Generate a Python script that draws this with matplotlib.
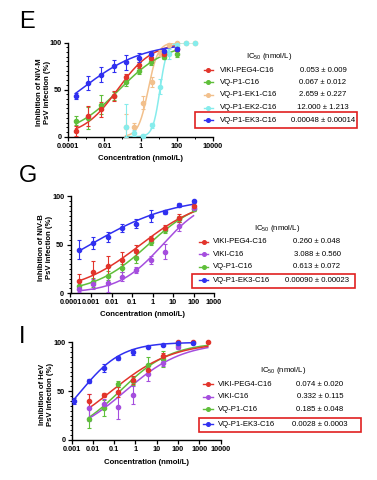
import numpy as np
import matplotlib
matplotlib.use('Agg')
import matplotlib.pyplot as plt
from matplotlib.lines import Line2D
from matplotlib.patches import Rectangle
from matplotlib.ticker import FixedLocator, NullFormatter, MultipleLocator

plt.rcParams['font.family'] = ['Liberation Sans', 'DejaVu Sans']
plt.rcParams['mathtext.default'] = 'regular'

W, H = 377, 480

RED = '#e2342b'
GREEN = '#5fbf3a'
ORANGE = '#f2c08c'
CYAN = '#86ecec'
BLUE = '#3030f0'
PURPLE = '#a54ede'

# ---- panel E : NiV-M ----
e_conc = [0.000256, 0.00128, 0.0064, 0.032, 0.16, 0.8, 4, 20, 100]
e_conc_ek = [0.152, 0.457, 1.37, 4.1, 12.3, 37, 111, 333, 1000]
e_peg4 = [6, 22, 29, 43, 63, 76, 84, 88, 93]
e_peg4_err = [5, 11, 8, 5, 4, 3, 3, 2, 2]
e_vq = [17, 20, 34, 43, 58, 70, 79, 85, 88]
e_vq_err = [5, 12, 10, 4, 4, 3, 3, 3, 3]
e_ek1 = [10, 10, 36, 58, 89, 97, 100, 100, 100]
e_ek1_err = [14, 5, 7, 5, 3, 1, 1, 1, 1]
e_ek2 = [10, 4, 1, 12, 53, 88, 97, 99, 99]
e_ek2_err = [25, 3, 2, 3, 8, 5, 2, 1, 1]
e_ek3 = [43, 57, 66, 75, 79, 84, 88, 91, 93]
e_ek3_err = [3, 7, 8, 6, 8, 5, 3, 3, 2]
e_names = ['VIKI-PEG4-C16', 'VQ-P1-C16', 'VQ-P1-EK1-C16', 'VQ-P1-EK2-C16', 'VQ-P1-EK3-C16']
e_ic50_text = ['0.053 ± 0.009', '0.067 ± 0.012', '2.659 ± 0.227', '12.000 ± 1.213', '0.00048 ± 0.00014']
e_ic50 = [0.053, 0.067, 2.659, 12.0, 0.00048]
e_hill = [0.45, 0.33, 1.6, 2.2, 0.25]

# ---- panel G : NiV-B ----
g_conc = [0.000256, 0.00128, 0.0064, 0.032, 0.16, 0.8, 4, 20, 100]
g_peg4 = [12, 22, 28, 34, 44, 56, 67, 78, 90]
g_peg4_err = [8, 11, 10, 8, 6, 3, 3, 4, 3]
g_viki = [4, 9, 10, 17, 24, 34, 43, 69, 88]
g_viki_err = [3, 5, 9, 5, 3, 4, 8, 5, 2]
g_vq = [7, 11, 18, 26, 36, 53, 65, 77, 87]
g_vq_err = [4, 5, 5, 4, 5, 3, 3, 3, 2]
g_ek3 = [45, 52, 58, 67, 72, 80, 84, 91, 95]
g_ek3_err = [10, 6, 5, 4, 5, 6, 2, 2, 1]
g_names = ['VIKI-PEG4-C16', 'VIKI-C16', 'VQ-P1-C16', 'VQ-P1-EK3-C16']
g_ic50_text = ['0.260 ± 0.048', '3.088 ± 0.560', '0.613 ± 0.072', '0.00090 ± 0.00023']
g_ic50 = [0.260, 3.088, 0.613, 0.00090]
g_hill = [0.28, 0.40, 0.33, 0.21]

# ---- panel I : HeV ----
i_conc = [0.0064, 0.032, 0.16, 0.8, 4, 20, 100, 500, 2500]
i_conc_ek3 = [0.00128, 0.0064, 0.032, 0.16, 0.8, 4, 20, 100, 500]
i_peg4 = [40, 46, 49, 61, 72, 86, 100, 100, 100]
i_peg4_err = [7, 2, 5, 4, 4, 3, 1, 0, 0]
i_viki = [33, 37, 34, 46, 68, 79, 95]
i_viki_err = [14, 5, 13, 9, 8, 3, 2]
i_vq = [22, 33, 57, 60, 77, 83, 97]
i_vq_err = [10, 8, 3, 4, 8, 8, 2]
i_ek3 = [40, 60, 74, 84, 90, 95, 97, 99, 99]
i_ek3_err = [3, 2, 4, 2, 3, 1, 1, 1, 1]
i_names = ['VIKI-PEG4-C16', 'VIKI-C16', 'VQ-P1-C16', 'VQ-P1-EK3-C16']
i_ic50_text = ['0.074 ± 0.020', '0.332 ± 0.115', '0.185 ± 0.048', '0.0028 ± 0.0003']
i_ic50 = [0.074, 0.332, 0.185, 0.0028]
i_hill = [0.30, 0.32, 0.36, 0.45]


def hill(x, ic50, h):
    return 100.0 / (1.0 + (ic50 / x) ** h)


def fx(px):
    return px / W


def fy(py):
    return 1 - py / H


fig = plt.figure(figsize=(W / 100, H / 100), dpi=100)


def make_axes(left, right, top, bottom, xlim, majors, labels, minors, ylabel, letter, lpos):
    ax = fig.add_axes([fx(left), fy(bottom), fx(right - left), (bottom - top) / H])
    ax.set_xscale('log')
    ax.set_xlim(*xlim)
    ax.set_ylim(0, 100)
    ax.xaxis.set_major_locator(FixedLocator(majors))
    ax.set_xticklabels(labels)
    ax.xaxis.set_minor_locator(FixedLocator(minors))
    ax.xaxis.set_minor_formatter(NullFormatter())
    ax.set_yticks([0, 50, 100])
    ax.yaxis.set_minor_locator(MultipleLocator(5))
    for s in ['top', 'right']:
        ax.spines[s].set_visible(False)
    for s in ['left', 'bottom']:
        ax.spines[s].set_linewidth(1.0)
    ax.tick_params(which='major', length=3, width=0.9, labelsize=5.3, pad=1.5)
    ax.tick_params(which='minor', length=1.6, width=0.7)
    for t in ax.get_xticklabels() + ax.get_yticklabels():
        t.set_fontweight('bold')
    fig.text(fx((left + right) / 2), fy(bottom + 22), 'Concentration (nmol/L)',
             fontsize=5.6, fontweight='bold', ha='center', va='center')
    fig.text(fx(left - 25), fy((top + bottom) / 2 + 3), ylabel, rotation=90,
             fontsize=5.6, fontweight='bold', ha='center', va='center', linespacing=1.3)
    fig.text(fx(lpos[0]), fy(lpos[1]), letter, fontsize=17, ha='left', va='center')
    return ax


def plot_series(ax, x, y, err, color, ic50, h, xr):
    y = np.asarray(y, float)
    err = np.asarray(err, float)
    lower = np.minimum(err, y)
    ax.errorbar(x, y, yerr=[lower, err], fmt='o', color=color, ms=3, elinewidth=0.8,
                capsize=1.6, capthick=0.8, clip_on=False, zorder=3)
    xs = np.logspace(np.log10(xr[0]), np.log10(xr[1]), 300)
    ax.plot(xs, hill(xs, ic50, h), color=color, lw=1.1, zorder=2)


def legend(title_xy, rows, colors, names, values, hx, nx, vx, box):
    fig.text(fx(title_xy[0]), fy(title_xy[1]), 'IC$_{50}$ (nmol/L)', fontsize=5.6,
             ha='center', va='center')
    for yy, c, n, v in zip(rows, colors, names, values):
        fig.add_artist(Line2D([fx(hx[0]), fx(hx[1])], [fy(yy), fy(yy)], color=c, lw=1.0,
                              transform=fig.transFigure))
        fig.add_artist(Line2D([fx((hx[0] + hx[1]) / 2)], [fy(yy)], color=c, marker='o', ms=2.6,
                              transform=fig.transFigure))
        fig.text(fx(nx), fy(yy), n, fontsize=5.6, ha='left', va='center')
        fig.text(fx(vx), fy(yy), v, fontsize=5.6, ha='center', va='center')
    x0, x1, y0, y1 = box
    fig.add_artist(Rectangle((fx(x0), fy(y1)), fx(x1 - x0), (y1 - y0) / H, fill=False,
                             edgecolor='#e02020', lw=1.2, transform=fig.transFigure))


# Panel E
axE = make_axes(68.3, 212.7, 42.5, 136.7, (1e-4, 1e4),
                [1e-4, 1e-2, 1, 1e2, 1e4], ['0.0001', '0.01', '1', '100', '10000'],
                [1e-3, 1e-1, 10, 1e3], 'Inhibition of NiV-M\nPsV infection (%)', 'E', (19, 22))
plot_series(axE, e_conc_ek, e_ek1, e_ek1_err, ORANGE, e_ic50[2], e_hill[2], (0.15, 1000))
plot_series(axE, e_conc_ek, e_ek2, e_ek2_err, CYAN, e_ic50[3], e_hill[3], (0.15, 1000))
plot_series(axE, e_conc, e_vq, e_vq_err, GREEN, e_ic50[1], e_hill[1], (e_conc[0], 100))
plot_series(axE, e_conc, e_peg4, e_peg4_err, RED, e_ic50[0], e_hill[0], (e_conc[0], 100))
plot_series(axE, e_conc, e_ek3, e_ek3_err, BLUE, e_ic50[4], e_hill[4], (e_conc[0], 100))
legend((269, 56), [70, 82, 95, 107.5, 120], [RED, GREEN, ORANGE, CYAN, BLUE],
       e_names, e_ic50_text, (204, 213), 220, 323, (195, 357, 111.7, 127.7))

# Panel G
axG = make_axes(70.5, 214, 196.5, 293, (1e-4, 1e3),
                [1e-4, 1e-3, 1e-2, 1e-1, 1, 10, 100, 1000],
                ['0.0001', '0.001', '0.01', '0.1', '1', '10', '100', '1000'],
                [], 'Inhibition of NiV-B\nPsV infection (%)', 'G', (19, 176))
plot_series(axG, g_conc, g_vq, g_vq_err, GREEN, g_ic50[2], g_hill[2], (g_conc[0], 100))
plot_series(axG, g_conc, g_viki, g_viki_err, PURPLE, g_ic50[1], g_hill[1], (g_conc[0], 100))
plot_series(axG, g_conc, g_peg4, g_peg4_err, RED, g_ic50[0], g_hill[0], (g_conc[0], 100))
plot_series(axG, g_conc, g_ek3, g_ek3_err, BLUE, g_ic50[3], g_hill[3], (g_conc[0], 100))
legend((277, 228), [241.7, 254.3, 266.7, 280], [RED, PURPLE, GREEN, BLUE],
       g_names, g_ic50_text, (199, 208), 213, 317, (192, 355, 274, 288))

# Panel I
axI = make_axes(71.5, 220.6, 342.3, 440, (1e-3, 1e4),
                [1e-3, 1e-2, 1e-1, 1, 10, 100, 1000, 1e4],
                ['0.001', '0.01', '0.1', '1', '10', '100', '1000', '10000'],
                [], 'Inhibition of HeV\nPsV infection (%)', 'I', (19, 337))
plot_series(axI, i_conc[:7], i_vq, i_vq_err, GREEN, i_ic50[2], i_hill[2], (i_conc[0], 2500))
plot_series(axI, i_conc[:7], i_viki, i_viki_err, PURPLE, i_ic50[1], i_hill[1], (i_conc[0], 2500))
plot_series(axI, i_conc, i_peg4, i_peg4_err, RED, i_ic50[0], i_hill[0], (i_conc[0], 2500))
plot_series(axI, i_conc_ek3, i_ek3, i_ek3_err, BLUE, i_ic50[3], i_hill[3], (i_conc_ek3[0], 500))
legend((283, 370), [384, 396.7, 409.3, 424], [RED, PURPLE, GREEN, BLUE],
       i_names, i_ic50_text, (203, 213), 218, 320, (199, 361, 417.7, 432.3))

fig.savefig('out.png', dpi=100)
